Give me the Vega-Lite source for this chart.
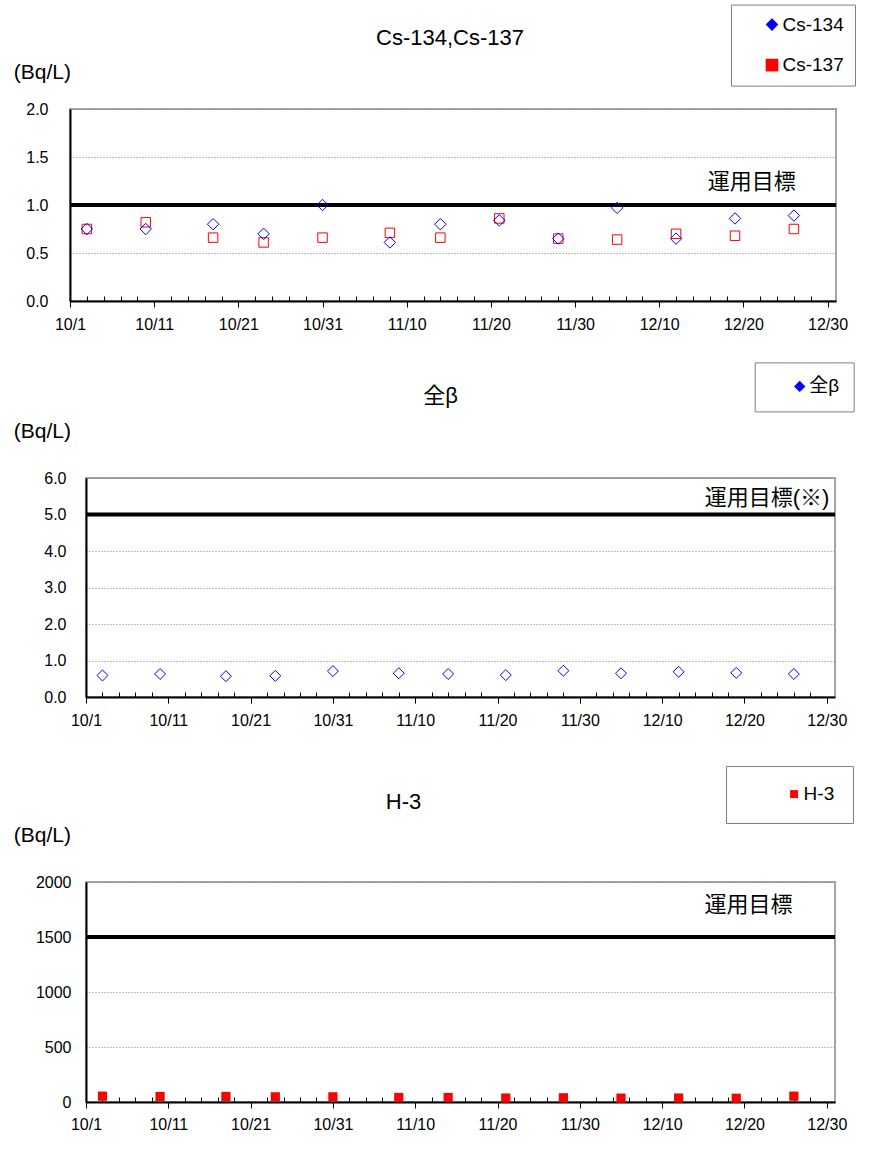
{
  "$schema": "https://vega.github.io/schema/vega-lite/v6.json",
  "background": "white",
  "padding": {"left": 11, "top": 3, "right": 0, "bottom": 5},
  "config": {
    "font": "Liberation Sans, Noto Sans CJK JP",
    "view": {"stroke": "#a6a6a6", "strokeWidth": 2},
    "axis": {"labelColor": "#000000", "labelFontSize": 16, "titleColor": "#000000", "domainColor": "#000000", "domainWidth": 2, "tickColor": "#000000", "tickWidth": 1, "gridColor": "#808080", "gridDash": [1, 2], "gridWidth": 1},
    "legend": {"labelColor": "#000000", "labelFontSize": 19, "strokeColor": "#808080", "fillColor": "#ffffff"},
    "title": {"color": "#000000", "fontSize": 22, "fontWeight": "normal"}
  },
  "datasets": {
    "cs": [
      {"date": "2019-10-03", "nuclide": "Cs-134", "value": 0.75},
      {"date": "2019-10-03", "nuclide": "Cs-137", "value": 0.75},
      {"date": "2019-10-10", "nuclide": "Cs-134", "value": 0.75},
      {"date": "2019-10-10", "nuclide": "Cs-137", "value": 0.82},
      {"date": "2019-10-18", "nuclide": "Cs-134", "value": 0.80},
      {"date": "2019-10-18", "nuclide": "Cs-137", "value": 0.66},
      {"date": "2019-10-24", "nuclide": "Cs-134", "value": 0.70},
      {"date": "2019-10-24", "nuclide": "Cs-137", "value": 0.61},
      {"date": "2019-10-31", "nuclide": "Cs-134", "value": 1.00},
      {"date": "2019-10-31", "nuclide": "Cs-137", "value": 0.66},
      {"date": "2019-11-08", "nuclide": "Cs-134", "value": 0.61},
      {"date": "2019-11-08", "nuclide": "Cs-137", "value": 0.71},
      {"date": "2019-11-14", "nuclide": "Cs-134", "value": 0.80},
      {"date": "2019-11-14", "nuclide": "Cs-137", "value": 0.66},
      {"date": "2019-11-21", "nuclide": "Cs-134", "value": 0.84},
      {"date": "2019-11-21", "nuclide": "Cs-137", "value": 0.86},
      {"date": "2019-11-28", "nuclide": "Cs-134", "value": 0.65},
      {"date": "2019-11-28", "nuclide": "Cs-137", "value": 0.65},
      {"date": "2019-12-05", "nuclide": "Cs-134", "value": 0.97},
      {"date": "2019-12-05", "nuclide": "Cs-137", "value": 0.64},
      {"date": "2019-12-12", "nuclide": "Cs-134", "value": 0.65},
      {"date": "2019-12-12", "nuclide": "Cs-137", "value": 0.70},
      {"date": "2019-12-19", "nuclide": "Cs-134", "value": 0.86},
      {"date": "2019-12-19", "nuclide": "Cs-137", "value": 0.68},
      {"date": "2019-12-26", "nuclide": "Cs-134", "value": 0.89},
      {"date": "2019-12-26", "nuclide": "Cs-137", "value": 0.75}
    ],
    "beta": [
      {"date": "2019-10-03", "nuclide": "全β", "value": 0.59},
      {"date": "2019-10-10", "nuclide": "全β", "value": 0.63},
      {"date": "2019-10-18", "nuclide": "全β", "value": 0.57},
      {"date": "2019-10-24", "nuclide": "全β", "value": 0.58},
      {"date": "2019-10-31", "nuclide": "全β", "value": 0.71},
      {"date": "2019-11-08", "nuclide": "全β", "value": 0.65},
      {"date": "2019-11-14", "nuclide": "全β", "value": 0.63},
      {"date": "2019-11-21", "nuclide": "全β", "value": 0.60},
      {"date": "2019-11-28", "nuclide": "全β", "value": 0.72},
      {"date": "2019-12-05", "nuclide": "全β", "value": 0.65},
      {"date": "2019-12-12", "nuclide": "全β", "value": 0.69},
      {"date": "2019-12-19", "nuclide": "全β", "value": 0.66},
      {"date": "2019-12-26", "nuclide": "全β", "value": 0.63}
    ],
    "h3": [
      {"date": "2019-10-03", "nuclide": "H-3", "value": 53},
      {"date": "2019-10-10", "nuclide": "H-3", "value": 50},
      {"date": "2019-10-18", "nuclide": "H-3", "value": 50},
      {"date": "2019-10-24", "nuclide": "H-3", "value": 47},
      {"date": "2019-10-31", "nuclide": "H-3", "value": 47},
      {"date": "2019-11-08", "nuclide": "H-3", "value": 41},
      {"date": "2019-11-14", "nuclide": "H-3", "value": 41},
      {"date": "2019-11-21", "nuclide": "H-3", "value": 36},
      {"date": "2019-11-28", "nuclide": "H-3", "value": 38},
      {"date": "2019-12-05", "nuclide": "H-3", "value": 35},
      {"date": "2019-12-12", "nuclide": "H-3", "value": 36},
      {"date": "2019-12-19", "nuclide": "H-3", "value": 34},
      {"date": "2019-12-26", "nuclide": "H-3", "value": 53}
    ]
  },
  "columns": 2,
  "align": "none",
  "spacing": {"row": 0, "column": 0},
  "resolve": {"scale": {"fill": "independent", "shape": "independent"}, "legend": {"fill": "independent", "shape": "independent"}},
  "concat": [
    {"width": 1, "height": 251, "view": {"stroke": null}, "data": {"values": []}, "mark": "point"},
    {
      "width": 766,
      "height": 192,
      "title": {"text": "Cs-134,Cs-137", "frame": "group", "anchor": "middle", "baseline": "middle", "offset": -55.5, "dx": -3},
      "data": {"name": "cs"},
      "layer": [
        {
          "data": {"values": [{}]},
          "mark": {"type": "rule", "color": "#000000", "strokeWidth": 4},
          "encoding": {
            "y": {"datum": 1, "type": "quantitative", "scale": {"domain": [0, 2], "nice": false},
              "axis": {"title": "(Bq/L)", "titleAngle": 0, "titleAlign": "left", "titleBaseline": "middle", "titleX": -56.7, "titleY": -36.2, "titleFontSize": 21, "titleFontWeight": "normal", "values": [0, 0.5, 1, 1.5, 2], "format": ".1f", "ticks": false, "labelPadding": 22, "labelFontSize": 16, "grid": true}}
          }
        },
        {
          "data": {"values": [{}]},
          "mark": {"type": "text", "text": "運用目標", "fontSize": 22, "align": "center", "baseline": "middle", "color": "#000000"},
          "encoding": {
            "x": {"datum": 1576886400000, "type": "temporal", "scale": {"type": "utc", "domain": [1569888000000, 1577750400000]},
              "axis": {"title": null, "grid": false, "labelOverlap": false, "labelBound": false, "labelFlush": false, "labelPadding": 9, "labelFontSize": 16,
                "values": [1569888000000,1570060800000,1570233600000,1570406400000,1570579200000,1570752000000,1570924800000,1571097600000,1571270400000,1571443200000,1571616000000,1571788800000,1571961600000,1572134400000,1572307200000,1572480000000,1572652800000,1572825600000,1572998400000,1573171200000,1573344000000,1573516800000,1573689600000,1573862400000,1574035200000,1574208000000,1574380800000,1574553600000,1574726400000,1574899200000,1575072000000,1575244800000,1575417600000,1575590400000,1575763200000,1575936000000,1576108800000,1576281600000,1576454400000,1576627200000,1576800000000,1576972800000,1577145600000,1577318400000,1577491200000,1577664000000],
                "labelExpr": "(datum.value - 1569888000000) % 864000000 === 0 ? utcFormat(datum.value, '%-m/%-d') : ''",
                "tickSize": {"condition": {"test": "(datum.value - 1569888000000) % 864000000 === 0", "value": 6}, "value": -5}}},
            "y": {"datum": 1.24, "type": "quantitative", "scale": {"domain": [0, 2], "nice": false},
              "axis": {"title": "(Bq/L)", "titleAngle": 0, "titleAlign": "left", "titleBaseline": "middle", "titleX": -56.7, "titleY": -36.2, "titleFontSize": 21, "titleFontWeight": "normal", "values": [0, 0.5, 1, 1.5, 2], "format": ".1f", "ticks": false, "labelPadding": 22, "labelFontSize": 16, "grid": true}}
          }
        },
        {
          "transform": [{"filter": "datum.nuclide === 'Cs-137'"}],
          "mark": {"type": "point", "shape": "square", "filled": false, "color": "#FF0000", "strokeWidth": 1, "size": 90, "opacity": 1},
          "encoding": {
            "x": {"field": "date", "type": "temporal", "scale": {"type": "utc", "domain": [1569888000000, 1577750400000]},
              "axis": {"title": null, "grid": false, "labelOverlap": false, "labelBound": false, "labelFlush": false, "labelPadding": 9, "labelFontSize": 16,
                "values": [1569888000000,1570060800000,1570233600000,1570406400000,1570579200000,1570752000000,1570924800000,1571097600000,1571270400000,1571443200000,1571616000000,1571788800000,1571961600000,1572134400000,1572307200000,1572480000000,1572652800000,1572825600000,1572998400000,1573171200000,1573344000000,1573516800000,1573689600000,1573862400000,1574035200000,1574208000000,1574380800000,1574553600000,1574726400000,1574899200000,1575072000000,1575244800000,1575417600000,1575590400000,1575763200000,1575936000000,1576108800000,1576281600000,1576454400000,1576627200000,1576800000000,1576972800000,1577145600000,1577318400000,1577491200000,1577664000000],
                "labelExpr": "(datum.value - 1569888000000) % 864000000 === 0 ? utcFormat(datum.value, '%-m/%-d') : ''",
                "tickSize": {"condition": {"test": "(datum.value - 1569888000000) % 864000000 === 0", "value": 6}, "value": -5}}},
            "y": {"field": "value", "type": "quantitative", "scale": {"domain": [0, 2], "nice": false},
              "axis": {"title": "(Bq/L)", "titleAngle": 0, "titleAlign": "left", "titleBaseline": "middle", "titleX": -56.7, "titleY": -36.2, "titleFontSize": 21, "titleFontWeight": "normal", "values": [0, 0.5, 1, 1.5, 2], "format": ".1f", "ticks": false, "labelPadding": 22, "labelFontSize": 16, "grid": true}}
          }
        },
        {
          "transform": [{"filter": "datum.nuclide === 'Cs-134'"}],
          "mark": {"type": "point", "shape": "diamond", "filled": false, "color": "#0000FF", "strokeWidth": 1, "size": 130, "opacity": 1},
          "encoding": {
            "x": {"field": "date", "type": "temporal", "scale": {"type": "utc", "domain": [1569888000000, 1577750400000]},
              "axis": {"title": null, "grid": false, "labelOverlap": false, "labelBound": false, "labelFlush": false, "labelPadding": 9, "labelFontSize": 16,
                "values": [1569888000000,1570060800000,1570233600000,1570406400000,1570579200000,1570752000000,1570924800000,1571097600000,1571270400000,1571443200000,1571616000000,1571788800000,1571961600000,1572134400000,1572307200000,1572480000000,1572652800000,1572825600000,1572998400000,1573171200000,1573344000000,1573516800000,1573689600000,1573862400000,1574035200000,1574208000000,1574380800000,1574553600000,1574726400000,1574899200000,1575072000000,1575244800000,1575417600000,1575590400000,1575763200000,1575936000000,1576108800000,1576281600000,1576454400000,1576627200000,1576800000000,1576972800000,1577145600000,1577318400000,1577491200000,1577664000000],
                "labelExpr": "(datum.value - 1569888000000) % 864000000 === 0 ? utcFormat(datum.value, '%-m/%-d') : ''",
                "tickSize": {"condition": {"test": "(datum.value - 1569888000000) % 864000000 === 0", "value": 6}, "value": -5}}},
            "y": {"field": "value", "type": "quantitative", "scale": {"domain": [0, 2], "nice": false},
              "axis": {"title": "(Bq/L)", "titleAngle": 0, "titleAlign": "left", "titleBaseline": "middle", "titleX": -56.7, "titleY": -36.2, "titleFontSize": 21, "titleFontWeight": "normal", "values": [0, 0.5, 1, 1.5, 2], "format": ".1f", "ticks": false, "labelPadding": 22, "labelFontSize": 16, "grid": true}}
          }
        },
        {
          "transform": [{"filter": "datum.value < 0"}],
          "mark": {"type": "point", "filled": true, "opacity": 1},
          "encoding": {
            "x": {"field": "date", "type": "temporal", "scale": {"type": "utc", "domain": [1569888000000, 1577750400000]},
              "axis": {"title": null, "grid": false, "labelOverlap": false, "labelBound": false, "labelFlush": false, "labelPadding": 9, "labelFontSize": 16,
                "values": [1569888000000,1570060800000,1570233600000,1570406400000,1570579200000,1570752000000,1570924800000,1571097600000,1571270400000,1571443200000,1571616000000,1571788800000,1571961600000,1572134400000,1572307200000,1572480000000,1572652800000,1572825600000,1572998400000,1573171200000,1573344000000,1573516800000,1573689600000,1573862400000,1574035200000,1574208000000,1574380800000,1574553600000,1574726400000,1574899200000,1575072000000,1575244800000,1575417600000,1575590400000,1575763200000,1575936000000,1576108800000,1576281600000,1576454400000,1576627200000,1576800000000,1576972800000,1577145600000,1577318400000,1577491200000,1577664000000],
                "labelExpr": "(datum.value - 1569888000000) % 864000000 === 0 ? utcFormat(datum.value, '%-m/%-d') : ''",
                "tickSize": {"condition": {"test": "(datum.value - 1569888000000) % 864000000 === 0", "value": 6}, "value": -5}}},
            "y": {"field": "value", "type": "quantitative", "scale": {"domain": [0, 2], "nice": false},
              "axis": {"title": "(Bq/L)", "titleAngle": 0, "titleAlign": "left", "titleBaseline": "middle", "titleX": -56.7, "titleY": -36.2, "titleFontSize": 21, "titleFontWeight": "normal", "values": [0, 0.5, 1, 1.5, 2], "format": ".1f", "ticks": false, "labelPadding": 22, "labelFontSize": 16, "grid": true}},
            "fill": {"field": "nuclide", "type": "nominal", "scale": {"domain": ["Cs-134", "Cs-137"], "range": ["#0000FF", "#FF0000"]},
              "legend": {"title": null, "orient": "none", "legendX": 661, "legendY": -104.4, "padding": 10.5, "rowPadding": 20.5, "symbolOffset": 21, "labelOffset": 1, "symbolSize": 160, "symbolStrokeWidth": 0, "symbolOpacity": 1}},
            "shape": {"field": "nuclide", "type": "nominal", "scale": {"domain": ["Cs-134", "Cs-137"], "range": ["diamond", "square"]},
              "legend": {"title": null, "orient": "none", "legendX": 661, "legendY": -104.4, "padding": 10.5, "rowPadding": 20.5, "symbolOffset": 21, "labelOffset": 1, "symbolSize": 160, "symbolStrokeWidth": 0, "symbolOpacity": 1}}
          }
        }
      ]
    },
    {"width": 1, "height": 286, "view": {"stroke": null}, "data": {"values": []}, "mark": "point"},
    {
      "width": 749,
      "height": 219,
      "title": {"text": "全β", "frame": "group", "anchor": "middle", "baseline": "middle", "offset": -56.3, "dx": -20},
      "data": {"name": "beta"},
      "layer": [
        {
          "data": {"values": [{}]},
          "mark": {"type": "rule", "color": "#000000", "strokeWidth": 4},
          "encoding": {
            "y": {"datum": 5, "type": "quantitative", "scale": {"domain": [0, 6], "nice": false},
              "axis": {"title": "(Bq/L)", "titleAngle": 0, "titleAlign": "left", "titleBaseline": "middle", "titleX": -72.7, "titleY": -46.3, "titleFontSize": 21, "titleFontWeight": "normal", "values": [0, 1, 2, 3, 4, 5, 6], "format": ".1f", "ticks": false, "labelPadding": 20, "labelFontSize": 16, "grid": true}}
          }
        },
        {
          "data": {"values": [{}]},
          "mark": {"type": "text", "text": "運用目標(※)", "fontSize": 22, "align": "center", "baseline": "middle", "color": "#000000"},
          "encoding": {
            "x": {"datum": 1577037600000, "type": "temporal", "scale": {"type": "utc", "domain": [1569888000000, 1577750400000]},
              "axis": {"title": null, "grid": false, "labelOverlap": false, "labelBound": false, "labelFlush": false, "labelPadding": 9, "labelFontSize": 16,
                "values": [1569888000000,1570060800000,1570233600000,1570406400000,1570579200000,1570752000000,1570924800000,1571097600000,1571270400000,1571443200000,1571616000000,1571788800000,1571961600000,1572134400000,1572307200000,1572480000000,1572652800000,1572825600000,1572998400000,1573171200000,1573344000000,1573516800000,1573689600000,1573862400000,1574035200000,1574208000000,1574380800000,1574553600000,1574726400000,1574899200000,1575072000000,1575244800000,1575417600000,1575590400000,1575763200000,1575936000000,1576108800000,1576281600000,1576454400000,1576627200000,1576800000000,1576972800000,1577145600000,1577318400000,1577491200000,1577664000000],
                "labelExpr": "(datum.value - 1569888000000) % 864000000 === 0 ? utcFormat(datum.value, '%-m/%-d') : ''",
                "tickSize": {"condition": {"test": "(datum.value - 1569888000000) % 864000000 === 0", "value": 6}, "value": -5}}},
            "y": {"datum": 5.46, "type": "quantitative", "scale": {"domain": [0, 6], "nice": false},
              "axis": {"title": "(Bq/L)", "titleAngle": 0, "titleAlign": "left", "titleBaseline": "middle", "titleX": -72.7, "titleY": -46.3, "titleFontSize": 21, "titleFontWeight": "normal", "values": [0, 1, 2, 3, 4, 5, 6], "format": ".1f", "ticks": false, "labelPadding": 20, "labelFontSize": 16, "grid": true}}
          }
        },
        {
          "mark": {"type": "point", "shape": "diamond", "filled": false, "color": "#0000FF", "strokeWidth": 1, "size": 120, "opacity": 1},
          "encoding": {
            "x": {"field": "date", "type": "temporal", "scale": {"type": "utc", "domain": [1569888000000, 1577750400000]},
              "axis": {"title": null, "grid": false, "labelOverlap": false, "labelBound": false, "labelFlush": false, "labelPadding": 9, "labelFontSize": 16,
                "values": [1569888000000,1570060800000,1570233600000,1570406400000,1570579200000,1570752000000,1570924800000,1571097600000,1571270400000,1571443200000,1571616000000,1571788800000,1571961600000,1572134400000,1572307200000,1572480000000,1572652800000,1572825600000,1572998400000,1573171200000,1573344000000,1573516800000,1573689600000,1573862400000,1574035200000,1574208000000,1574380800000,1574553600000,1574726400000,1574899200000,1575072000000,1575244800000,1575417600000,1575590400000,1575763200000,1575936000000,1576108800000,1576281600000,1576454400000,1576627200000,1576800000000,1576972800000,1577145600000,1577318400000,1577491200000,1577664000000],
                "labelExpr": "(datum.value - 1569888000000) % 864000000 === 0 ? utcFormat(datum.value, '%-m/%-d') : ''",
                "tickSize": {"condition": {"test": "(datum.value - 1569888000000) % 864000000 === 0", "value": 6}, "value": -5}}},
            "y": {"field": "value", "type": "quantitative", "scale": {"domain": [0, 6], "nice": false},
              "axis": {"title": "(Bq/L)", "titleAngle": 0, "titleAlign": "left", "titleBaseline": "middle", "titleX": -72.7, "titleY": -46.3, "titleFontSize": 21, "titleFontWeight": "normal", "values": [0, 1, 2, 3, 4, 5, 6], "format": ".1f", "ticks": false, "labelPadding": 20, "labelFontSize": 16, "grid": true}}
          }
        },
        {
          "transform": [{"filter": "datum.value < 0"}],
          "mark": {"type": "point", "filled": true, "opacity": 1},
          "encoding": {
            "x": {"field": "date", "type": "temporal", "scale": {"type": "utc", "domain": [1569888000000, 1577750400000]},
              "axis": {"title": null, "grid": false, "labelOverlap": false, "labelBound": false, "labelFlush": false, "labelPadding": 9, "labelFontSize": 16,
                "values": [1569888000000,1570060800000,1570233600000,1570406400000,1570579200000,1570752000000,1570924800000,1571097600000,1571270400000,1571443200000,1571616000000,1571788800000,1571961600000,1572134400000,1572307200000,1572480000000,1572652800000,1572825600000,1572998400000,1573171200000,1573344000000,1573516800000,1573689600000,1573862400000,1574035200000,1574208000000,1574380800000,1574553600000,1574726400000,1574899200000,1575072000000,1575244800000,1575417600000,1575590400000,1575763200000,1575936000000,1576108800000,1576281600000,1576454400000,1576627200000,1576800000000,1576972800000,1577145600000,1577318400000,1577491200000,1577664000000],
                "labelExpr": "(datum.value - 1569888000000) % 864000000 === 0 ? utcFormat(datum.value, '%-m/%-d') : ''",
                "tickSize": {"condition": {"test": "(datum.value - 1569888000000) % 864000000 === 0", "value": 6}, "value": -5}}},
            "y": {"field": "value", "type": "quantitative", "scale": {"domain": [0, 6], "nice": false},
              "axis": {"title": "(Bq/L)", "titleAngle": 0, "titleAlign": "left", "titleBaseline": "middle", "titleX": -72.7, "titleY": -46.3, "titleFontSize": 21, "titleFontWeight": "normal", "values": [0, 1, 2, 3, 4, 5, 6], "format": ".1f", "ticks": false, "labelPadding": 20, "labelFontSize": 16, "grid": true}},
            "fill": {"field": "nuclide", "type": "nominal", "scale": {"domain": ["全β"], "range": ["#0000FF"]},
              "legend": {"title": null, "orient": "none", "legendX": 668.7, "legendY": -115.6, "padding": 14.5, "symbolOffset": 21, "labelOffset": 0, "symbolSize": 130, "symbolStrokeWidth": 0, "symbolOpacity": 1}},
            "shape": {"field": "nuclide", "type": "nominal", "scale": {"domain": ["全β"], "range": ["diamond"]},
              "legend": {"title": null, "orient": "none", "legendX": 668.7, "legendY": -115.6, "padding": 14.5, "symbolOffset": 21, "labelOffset": 0, "symbolSize": 130, "symbolStrokeWidth": 0, "symbolOpacity": 1}}
          }
        }
      ]
    },
    {"width": 1, "height": 1, "view": {"stroke": null}, "data": {"values": []}, "mark": "point"},
    {
      "width": 749,
      "height": 220,
      "title": {"text": "H-3", "frame": "group", "anchor": "middle", "baseline": "middle", "offset": -58.3, "dx": -57},
      "data": {"name": "h3"},
      "layer": [
        {
          "data": {"values": [{}]},
          "mark": {"type": "rule", "color": "#000000", "strokeWidth": 4},
          "encoding": {
            "y": {"datum": 1500, "type": "quantitative", "scale": {"domain": [0, 2000], "nice": false},
              "axis": {"title": "(Bq/L)", "titleAngle": 0, "titleAlign": "left", "titleBaseline": "middle", "titleX": -72.7, "titleY": -46.7, "titleFontSize": 21, "titleFontWeight": "normal", "values": [0, 500, 1000, 1500, 2000], "format": "d", "ticks": false, "labelPadding": 15, "labelFontSize": 16, "grid": true}}
          }
        },
        {
          "data": {"values": [{}]},
          "mark": {"type": "text", "text": "運用目標", "fontSize": 22, "align": "center", "baseline": "middle", "color": "#000000"},
          "encoding": {
            "x": {"datum": 1576843200000, "type": "temporal", "scale": {"type": "utc", "domain": [1569888000000, 1577750400000]},
              "axis": {"title": null, "grid": false, "labelOverlap": false, "labelBound": false, "labelFlush": false, "labelPadding": 8, "labelFontSize": 16,
                "values": [1569888000000,1570060800000,1570233600000,1570406400000,1570579200000,1570752000000,1570924800000,1571097600000,1571270400000,1571443200000,1571616000000,1571788800000,1571961600000,1572134400000,1572307200000,1572480000000,1572652800000,1572825600000,1572998400000,1573171200000,1573344000000,1573516800000,1573689600000,1573862400000,1574035200000,1574208000000,1574380800000,1574553600000,1574726400000,1574899200000,1575072000000,1575244800000,1575417600000,1575590400000,1575763200000,1575936000000,1576108800000,1576281600000,1576454400000,1576627200000,1576800000000,1576972800000,1577145600000,1577318400000,1577491200000,1577664000000],
                "labelExpr": "(datum.value - 1569888000000) % 864000000 === 0 ? utcFormat(datum.value, '%-m/%-d') : ''",
                "tickSize": {"condition": {"test": "(datum.value - 1569888000000) % 864000000 === 0", "value": 6}, "value": -5}}},
            "y": {"datum": 1790, "type": "quantitative", "scale": {"domain": [0, 2000], "nice": false},
              "axis": {"title": "(Bq/L)", "titleAngle": 0, "titleAlign": "left", "titleBaseline": "middle", "titleX": -72.7, "titleY": -46.7, "titleFontSize": 21, "titleFontWeight": "normal", "values": [0, 500, 1000, 1500, 2000], "format": "d", "ticks": false, "labelPadding": 15, "labelFontSize": 16, "grid": true}}
          }
        },
        {
          "mark": {"type": "point", "shape": "square", "filled": true, "color": "#FF0000", "size": 85, "opacity": 1},
          "encoding": {
            "x": {"field": "date", "type": "temporal", "scale": {"type": "utc", "domain": [1569888000000, 1577750400000]},
              "axis": {"title": null, "grid": false, "labelOverlap": false, "labelBound": false, "labelFlush": false, "labelPadding": 8, "labelFontSize": 16,
                "values": [1569888000000,1570060800000,1570233600000,1570406400000,1570579200000,1570752000000,1570924800000,1571097600000,1571270400000,1571443200000,1571616000000,1571788800000,1571961600000,1572134400000,1572307200000,1572480000000,1572652800000,1572825600000,1572998400000,1573171200000,1573344000000,1573516800000,1573689600000,1573862400000,1574035200000,1574208000000,1574380800000,1574553600000,1574726400000,1574899200000,1575072000000,1575244800000,1575417600000,1575590400000,1575763200000,1575936000000,1576108800000,1576281600000,1576454400000,1576627200000,1576800000000,1576972800000,1577145600000,1577318400000,1577491200000,1577664000000],
                "labelExpr": "(datum.value - 1569888000000) % 864000000 === 0 ? utcFormat(datum.value, '%-m/%-d') : ''",
                "tickSize": {"condition": {"test": "(datum.value - 1569888000000) % 864000000 === 0", "value": 6}, "value": -5}}},
            "y": {"field": "value", "type": "quantitative", "scale": {"domain": [0, 2000], "nice": false},
              "axis": {"title": "(Bq/L)", "titleAngle": 0, "titleAlign": "left", "titleBaseline": "middle", "titleX": -72.7, "titleY": -46.7, "titleFontSize": 21, "titleFontWeight": "normal", "values": [0, 500, 1000, 1500, 2000], "format": "d", "ticks": false, "labelPadding": 15, "labelFontSize": 16, "grid": true}}
          }
        },
        {
          "transform": [{"filter": "datum.value < 0"}],
          "mark": {"type": "point", "filled": true, "opacity": 1},
          "encoding": {
            "x": {"field": "date", "type": "temporal", "scale": {"type": "utc", "domain": [1569888000000, 1577750400000]},
              "axis": {"title": null, "grid": false, "labelOverlap": false, "labelBound": false, "labelFlush": false, "labelPadding": 8, "labelFontSize": 16,
                "values": [1569888000000,1570060800000,1570233600000,1570406400000,1570579200000,1570752000000,1570924800000,1571097600000,1571270400000,1571443200000,1571616000000,1571788800000,1571961600000,1572134400000,1572307200000,1572480000000,1572652800000,1572825600000,1572998400000,1573171200000,1573344000000,1573516800000,1573689600000,1573862400000,1574035200000,1574208000000,1574380800000,1574553600000,1574726400000,1574899200000,1575072000000,1575244800000,1575417600000,1575590400000,1575763200000,1575936000000,1576108800000,1576281600000,1576454400000,1576627200000,1576800000000,1576972800000,1577145600000,1577318400000,1577491200000,1577664000000],
                "labelExpr": "(datum.value - 1569888000000) % 864000000 === 0 ? utcFormat(datum.value, '%-m/%-d') : ''",
                "tickSize": {"condition": {"test": "(datum.value - 1569888000000) % 864000000 === 0", "value": 6}, "value": -5}}},
            "y": {"field": "value", "type": "quantitative", "scale": {"domain": [0, 2000], "nice": false},
              "axis": {"title": "(Bq/L)", "titleAngle": 0, "titleAlign": "left", "titleBaseline": "middle", "titleX": -72.7, "titleY": -46.7, "titleFontSize": 21, "titleFontWeight": "normal", "values": [0, 500, 1000, 1500, 2000], "format": "d", "ticks": false, "labelPadding": 15, "labelFontSize": 16, "grid": true}},
            "fill": {"field": "nuclide", "type": "nominal", "scale": {"domain": ["H-3"], "range": ["#FF0000"]},
              "legend": {"title": null, "orient": "none", "legendX": 640, "legendY": -116, "padding": 18.6, "symbolOffset": 40, "labelOffset": 0, "symbolSize": 64, "symbolStrokeWidth": 0, "symbolOpacity": 1}},
            "shape": {"field": "nuclide", "type": "nominal", "scale": {"domain": ["H-3"], "range": ["square"]},
              "legend": {"title": null, "orient": "none", "legendX": 640, "legendY": -116, "padding": 18.6, "symbolOffset": 40, "labelOffset": 0, "symbolSize": 64, "symbolStrokeWidth": 0, "symbolOpacity": 1}}
          }
        }
      ]
    }
  ]
}
